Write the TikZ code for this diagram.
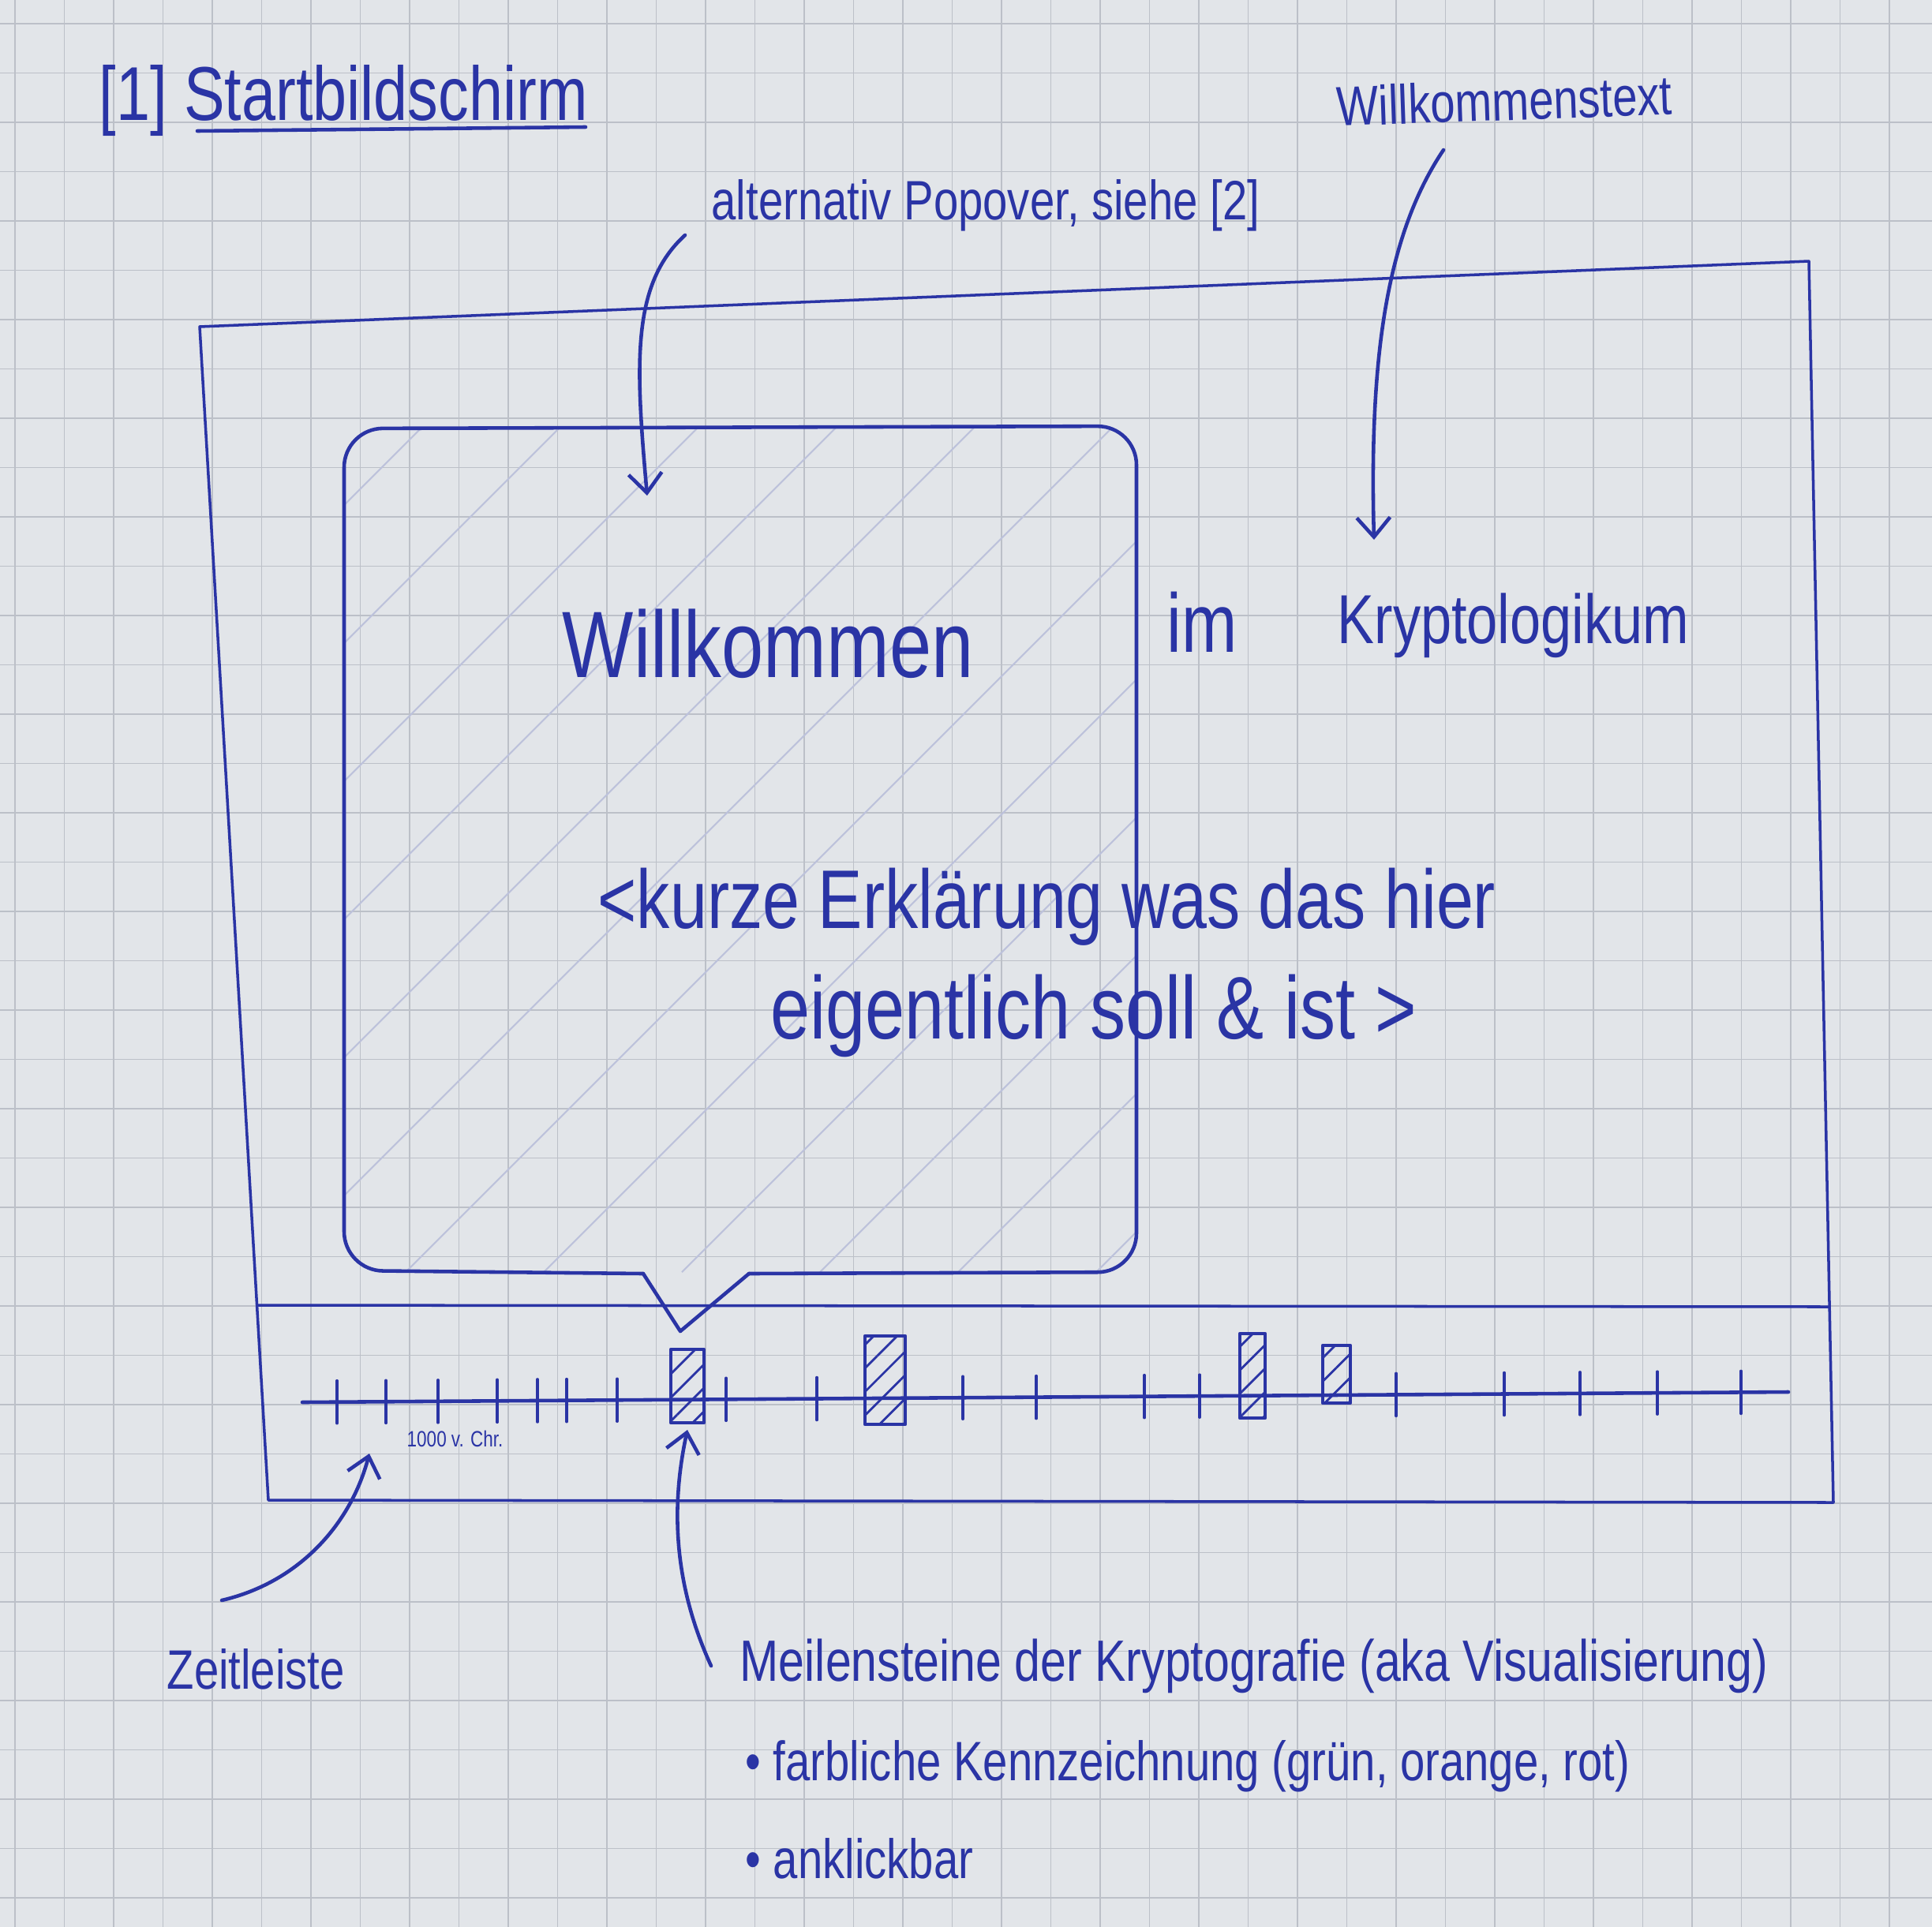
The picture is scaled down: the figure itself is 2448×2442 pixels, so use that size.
\documentclass[tikz,border=0pt]{standalone}
\usepackage{fontspec}
\setmainfont{Liberation Sans}
\newfontfamily\hand[FakeStretch=0.8]{Liberation Sans}
\usetikzlibrary{arrows.meta,patterns.meta}
\definecolor{ink}{RGB}{42,52,165}
\definecolor{paper}{RGB}{226,229,233}
\definecolor{gridc}{RGB}{188,192,200}
\begin{document}
\begin{tikzpicture}[x=0.01cm,y=-0.01cm,
  pen/.style={draw=ink, line width=1.3pt, line join=round, line cap=round},
  thinpen/.style={draw=ink, line width=1.0pt, line join=round, line cap=round},
  hatchline/.style={draw=ink!20!paper, line width=0.6pt},
  arr/.style={pen, -{Straight Barb[length=7pt,width=12pt]}},
  mile/.style={pen, pattern={Lines[angle=45,distance=6pt,line width=0.8pt]}, pattern color=ink},
  txt/.style={text=ink, inner sep=0pt, anchor=base west},
  big/.style={txt, font=\hand\fontsize{30}{36}\selectfont},
  mid/.style={txt, font=\hand\fontsize{20}{24}\selectfont},
  tiny/.style={txt, font=\hand\fontsize{8}{10}\selectfont}]
\useasboundingbox (0,0) rectangle (2448,2442);
\fill[paper] (0,0) rectangle (2448,2442);
% paper grid
\foreach \gx in {19,81.5,...,2448} \draw[gridc, line width=0.5pt] (\gx,0) -- (\gx,2442);
\foreach \gy in {30,92.5,...,2442} \draw[gridc, line width=0.5pt] (0,\gy) -- (2448,\gy);

% title
\node[txt, font=\hand\fontsize{27.5}{32}\selectfont] (title) at (125,152) {[1] Startbildschirm};
\draw[pen] (250,166) -- (742,161);

% screen frame
\draw[thinpen] (253,414) -- (2292,331) -- (2323,1904) -- (340,1901) -- cycle;
\draw[thinpen] (326,1654) -- (2318,1656);

% popover
\begin{scope}
  \clip (436,543) rectangle (1440,1612);
  \foreach \hx in {-536,-361,...,1440} \draw[hatchline] (\hx,1612) -- ++(1100,-1100);
\end{scope}
\draw[pen, rounded corners=14] (815,1614) -- (436,1610) -- (436,543) -- (1440,540) -- (1440,1612) -- (949,1614);
\draw[pen] (815,1614) -- (862,1687) -- (949,1614);

% texts in screen
\node[big, font=\hand\fontsize{34}{40}\selectfont] (willk) at (712,858) {Willkommen};
\node[big] (im) at (1478,826) {im};
\node[big, font=\hand\fontsize{25}{30}\selectfont] (krypto) at (1694,815) {Kryptologikum};
\node[big] (erkl1) at (757,1176) {<kurze Erklärung was das hier};
\node[big, font=\hand\fontsize{32}{38}\selectfont] (erkl2) at (976,1316) {eigentlich soll \& ist >};

% annotations
\node[mid, rotate=2] (wtext) at (1694,160) {Willkommenstext};
\node[mid] (poplbl) at (901,278) {alternativ Popover, siehe [2]};

% timeline
\draw[pen] (383,1777) -- (2266,1764);
\foreach \tx in {427,489,555,630,681,718,782,920,1035,1220,1313,1450,1520,1769,1906,2002,2100,2206}
  \draw[thinpen] (\tx,{1777-0.0069*(\tx-383)-27}) -- ++(0,54);
\draw[mile] (850,1710) rectangle (892,1803);
\draw[mile] (1096,1693) rectangle (1147,1805);
\draw[mile] (1571,1690) rectangle (1603,1797);
\draw[mile] (1676,1705) rectangle (1711,1778);
\node[tiny] (scale) at (515,1833) {1000 v. Chr.};

% lower annotations
\node[mid] (zeit) at (211,2140) {Zeitleiste};
\node[mid, font=\hand\fontsize{21}{25}\selectfont] (miles) at (937,2130) {Meilensteine der Kryptografie (aka Visualisierung)};
\node[mid] (item1) at (944,2256) {• farbliche Kennzeichnung (grün, orange, rot)};
\node[mid] (item2) at (944,2380) {• anklickbar};

% arrows
\coordinate (a1s) at (868,298);
\coordinate (a1e) at (820,628);
\coordinate (a2s) at (1829,190);
\coordinate (a2e) at (1741,684);
\coordinate (a3s) at (281,2028);
\coordinate (a3e) at (468,1842);
\coordinate (a4s) at (901,2111);
\coordinate (a4e) at (871,1812);
\draw[arr] (a1s) .. controls (800,360) and (805,460) .. (a1e);
\draw[arr] (a2s) .. controls (1755,300) and (1735,460) .. (a2e);
\draw[arr] (a3s) .. controls (380,2005) and (445,1930) .. (a3e);
\draw[arr] (a4s) .. controls (850,2000) and (852,1900) .. (a4e);
\end{tikzpicture}
\end{document}
